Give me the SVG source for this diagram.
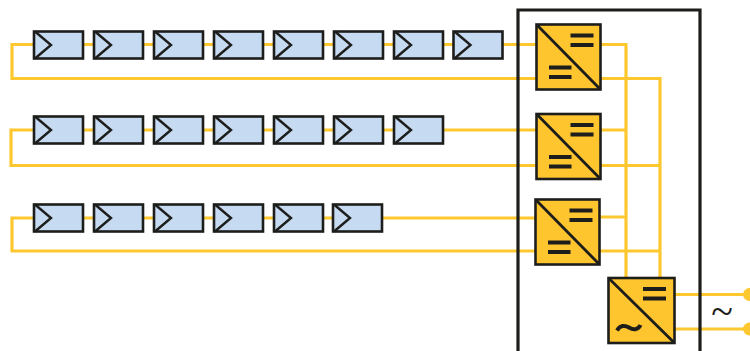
<svg xmlns="http://www.w3.org/2000/svg" width="750" height="351" viewBox="0 0 750 351">
<style>
.w{fill:none;stroke:#fdc82f;stroke-width:3.200}
.p{fill:#c6daf1;stroke:#1d1d1b;stroke-width:2.600}
.a{fill:none;stroke:#1d1d1b;stroke-width:2.400}
.c{fill:#fec52e;stroke:#1d1d1b;stroke-width:2.600}
.d{fill:none;stroke:#1d1d1b;stroke-width:2.800}
.b{fill:none;stroke:#1d1d1b;stroke-width:3.800}
.t{fill:#1d1d1b;font-family:"Liberation Serif",serif;font-size:40px}
</style>
<defs>
<g id="pv"><rect class="p" x="0" y="0" width="49" height="27"/><path class="a" d="M1 0L17 13.500L1 27"/></g>
<g id="dcdc"><rect class="c" x="0" y="0" width="64" height="65"/><path class="d" d="M1 1L63 64"/><path class="b" d="M34 11H57M34 20.500H57M12.500 43H35M12.500 52.500H35"/></g>
</defs>
<g id="connectors">
<path class="w" d="M536 44.500H12V78.500H536M601 44.500H626V278M601 78.500H660V278"/>
<path class="w" d="M536 130H11V165.500H536M601 130H626M601 165.500H660"/>
<path class="w" d="M535 218H12V251H535M600 217H626M600 251H660"/>
<path class="w" d="M675 294.500H749M675 329H749"/>
</g>
<g id="enclosure"><path fill="none" stroke="#1d1d1b" stroke-width="3.200" d="M518 351V10H700V351"/></g>
<g id="string1">
<use href="#pv" x="34" y="31.500"/><use href="#pv" x="94" y="31.500"/><use href="#pv" x="154" y="31.500"/><use href="#pv" x="214" y="31.500"/><use href="#pv" x="274" y="31.500"/><use href="#pv" x="334" y="31.500"/><use href="#pv" x="394" y="31.500"/><use href="#pv" x="453.500" y="31.500"/>
</g>
<g id="string2">
<use href="#pv" x="34" y="116.500"/><use href="#pv" x="94" y="116.500"/><use href="#pv" x="154" y="116.500"/><use href="#pv" x="214" y="116.500"/><use href="#pv" x="274" y="116.500"/><use href="#pv" x="334" y="116.500"/><use href="#pv" x="394" y="116.500"/>
</g>
<g id="string3">
<use href="#pv" x="34" y="204.500"/><use href="#pv" x="94" y="204.500"/><use href="#pv" x="154" y="204.500"/><use href="#pv" x="214" y="204.500"/><use href="#pv" x="274" y="204.500"/><use href="#pv" x="333" y="204.500"/>
</g>
<g id="conv1"><use href="#dcdc" x="536.500" y="24.500"/></g>
<g id="conv2"><use href="#dcdc" x="536.500" y="114"/></g>
<g id="conv3"><use href="#dcdc" x="535.500" y="199.500"/></g>
<g id="inverter">
<rect class="c" x="608.500" y="278" width="66" height="65"/>
<path class="d" d="M609.500 279L673.500 342"/>
<path class="b" d="M643 289H666M643 298.500H666"/>
<path fill="none" stroke="#1d1d1b" stroke-width="4" d="M617 330.500C620 325 625 325 629 327.500C633 330 638 330.500 640.500 325"/>
</g>
<g id="outputs">
<circle cx="749.500" cy="294.500" r="6.500" fill="#fdc82f"/>
<circle cx="749.500" cy="329" r="6.500" fill="#fdc82f"/>
<text class="t" x="722" y="325" text-anchor="middle">~</text>
</g>
</svg>
